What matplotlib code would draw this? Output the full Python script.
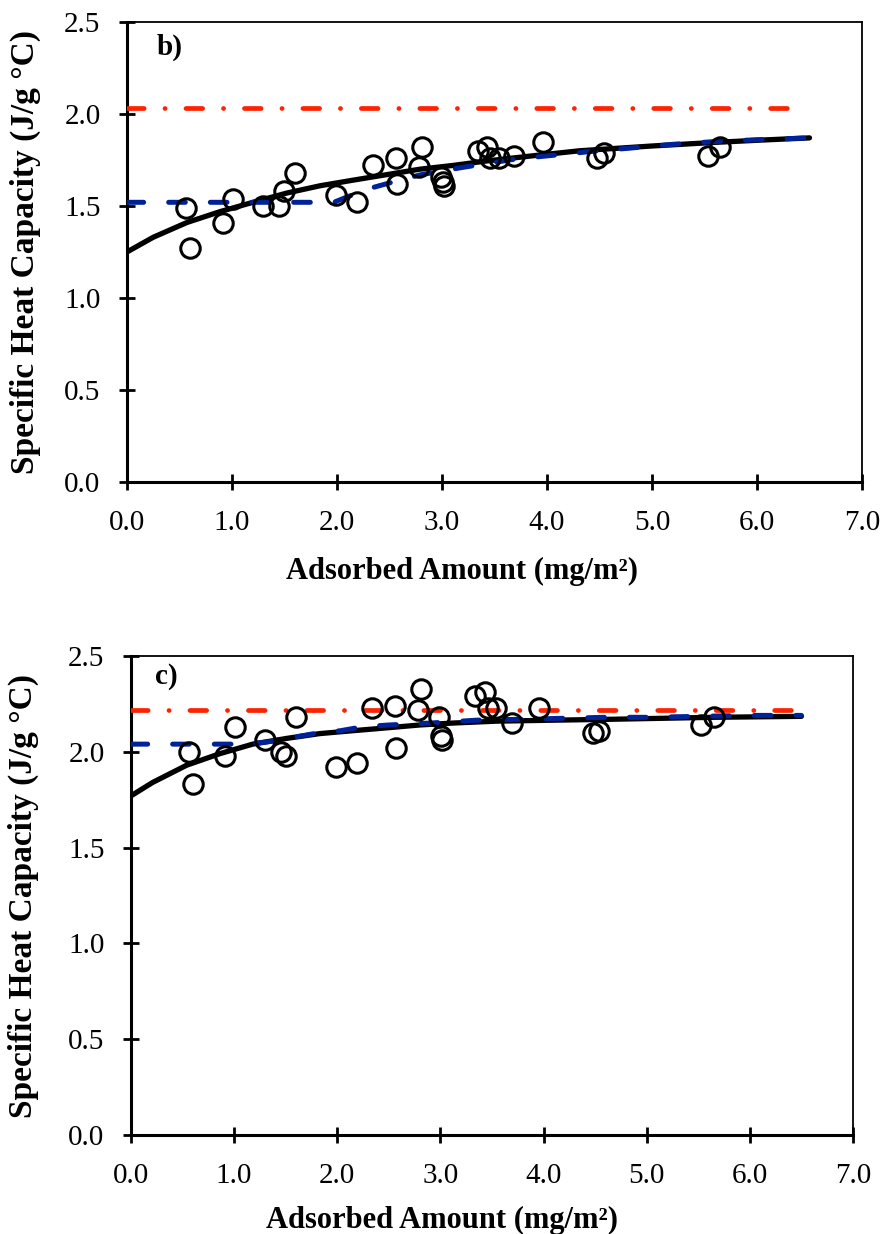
import matplotlib
matplotlib.use("Agg")
import matplotlib.pyplot as plt

plt.rcParams['font.family'] = ['Liberation Serif', 'DejaVu Serif']
plt.rcParams['lines.scale_dashes'] = False

# adsorbed amount (mg/m2), same samples in both panels
x_ads = [0.56, 0.60, 0.91, 1.01, 1.30, 1.45, 1.50, 1.60, 1.99, 2.19,
         2.34, 2.56, 2.57, 2.78, 2.81, 2.99, 3.01, 3.02, 3.34, 3.43,
         3.46, 3.54, 3.69, 3.96, 4.48, 4.54, 5.53, 5.65]
# specific heat capacity (J/g C)
cp_b = [1.49, 1.27, 1.41, 1.54, 1.50, 1.50, 1.58, 1.68, 1.56, 1.52,
        1.72, 1.76, 1.62, 1.71, 1.82, 1.66, 1.63, 1.61, 1.80, 1.82,
        1.76, 1.76, 1.77, 1.85, 1.76, 1.79, 1.77, 1.82]
cp_c = [2.00, 1.83, 1.98, 2.13, 2.06, 2.00, 1.98, 2.18, 1.92, 1.94,
        2.23, 2.24, 2.02, 2.22, 2.33, 2.18, 2.08, 2.06, 2.29, 2.31,
        2.23, 2.23, 2.15, 2.23, 2.10, 2.11, 2.14, 2.18]

# black fitted curves
fit_x_b = [0, 0.25, 0.57, 0.89, 1.2, 1.52, 1.84, 2.15, 2.47, 2.79, 3.1, 3.43, 3.9, 4.31, 5.0, 5.58, 6.0, 6.5]
fit_b = [1.25, 1.33, 1.41, 1.47, 1.52, 1.57, 1.61, 1.64, 1.67, 1.70, 1.72, 1.745, 1.775, 1.80, 1.826, 1.845, 1.857, 1.87]
fit_x_c = [0, 0.21, 0.54, 0.86, 1.18, 1.51, 1.83, 2.15, 2.48, 2.8, 3.12, 3.55, 4.1, 4.68, 5.65, 6.5]
fit_c = [1.77, 1.84, 1.93, 1.99, 2.04, 2.07, 2.095, 2.11, 2.125, 2.14, 2.15, 2.16, 2.165, 2.17, 2.18, 2.185]

# blue model curves
mod_x_b = [0, 1.97, 2.1, 2.34, 2.53, 2.8, 3.2, 3.7, 4.4, 4.8, 5.2, 5.6, 6.0, 6.5]
mod_b = [1.52, 1.52, 1.55, 1.60, 1.63, 1.67, 1.71, 1.755, 1.795, 1.815, 1.835, 1.85, 1.86, 1.87]
mod_x_c = [0, 1.1, 1.3, 1.43, 1.62, 1.83, 2.03, 2.24, 2.5, 2.9, 3.35, 3.8, 4.2, 4.6, 5.0, 5.5, 6.0, 6.5]
mod_c = [2.04, 2.04, 2.05, 2.06, 2.08, 2.10, 2.11, 2.13, 2.14, 2.15, 2.165, 2.17, 2.175, 2.18, 2.18, 2.185, 2.19, 2.19]

# red reference levels
ref_x = [0, 6.45]
ref_b = [2.03, 2.03]
ref_c = [2.22, 2.22]

red = '#FF2200'
blue = '#002299'

fig = plt.figure(figsize=(8.85, 12.34), dpi=100)
ax1 = fig.add_axes([0.1435, 0.6094, 0.8305, 0.3728])
ax2 = fig.add_axes([0.148, 0.0802, 0.8158, 0.3882])

# axes, y data, fit, model, reference, tag, ylabel x, xlabel pad, xlabel x, tag x, tag y
panels = [(ax1, cp_b, fit_x_b, fit_b, mod_x_b, mod_b, ref_b, 'b)', -0.117, 15, 0.456, 0.040, 0.975),
          (ax2, cp_c, fit_x_c, fit_c, mod_x_c, mod_c, ref_c, 'c)', -0.128, 12, 0.431, 0.033, 0.985)]

for ax, cp, fx, fy, mx, my, ry, tag, ylx, xlp, xlx, tx, ty in panels:
    ax.plot(fx, fy, color='black', lw=3.8, solid_capstyle='round', zorder=2)
    ax.plot(mx, my, color=blue, lw=3.6, dashes=(12, 18), dash_capstyle='round', zorder=3)
    ax.plot(ref_x, ry, color=red, lw=3.4, dashes=(12, 15, 0.1, 15), dash_capstyle='round', zorder=3)
    ax.plot(x_ads, cp, linestyle='none', marker='o', markersize=14,
            markerfacecolor='none', markeredgecolor='black', markeredgewidth=2.2, zorder=4)
    ax.set_xlim(0, 7)
    ax.set_ylim(0, 2.5)
    ax.set_xticks([0, 1, 2, 3, 4, 5, 6, 7])
    ax.set_yticks([0, 0.5, 1.0, 1.5, 2.0, 2.5])
    ax.set_xticklabels(['%.1f' % v for v in ax.get_xticks()])
    ax.set_yticklabels(['%.1f' % v for v in ax.get_yticks()])
    ax.tick_params(direction='inout', length=12, width=2, labelsize=21)
    ax.tick_params(axis='y', pad=13)
    ax.tick_params(axis='x', pad=14)
    ax.spines['left'].set_linewidth(2.2)
    ax.spines['bottom'].set_linewidth(2.2)
    ax.spines['top'].set_linewidth(1.3)
    ax.spines['right'].set_linewidth(1.3)
    ax.set_xlabel('Adsorbed Amount (mg/m²)', fontsize=22, fontweight='bold', labelpad=xlp)
    ax.xaxis.label.set_x(xlx)
    ax.set_ylabel('Specific Heat Capacity (J/g °C)', fontsize=24, fontweight='bold')
    ax.yaxis.set_label_coords(ylx, 0.5)
    ax.text(tx, ty, tag, transform=ax.transAxes, fontsize=21, fontweight='bold',
            va='top', ha='left')

fig.savefig('out.png', dpi=100)
